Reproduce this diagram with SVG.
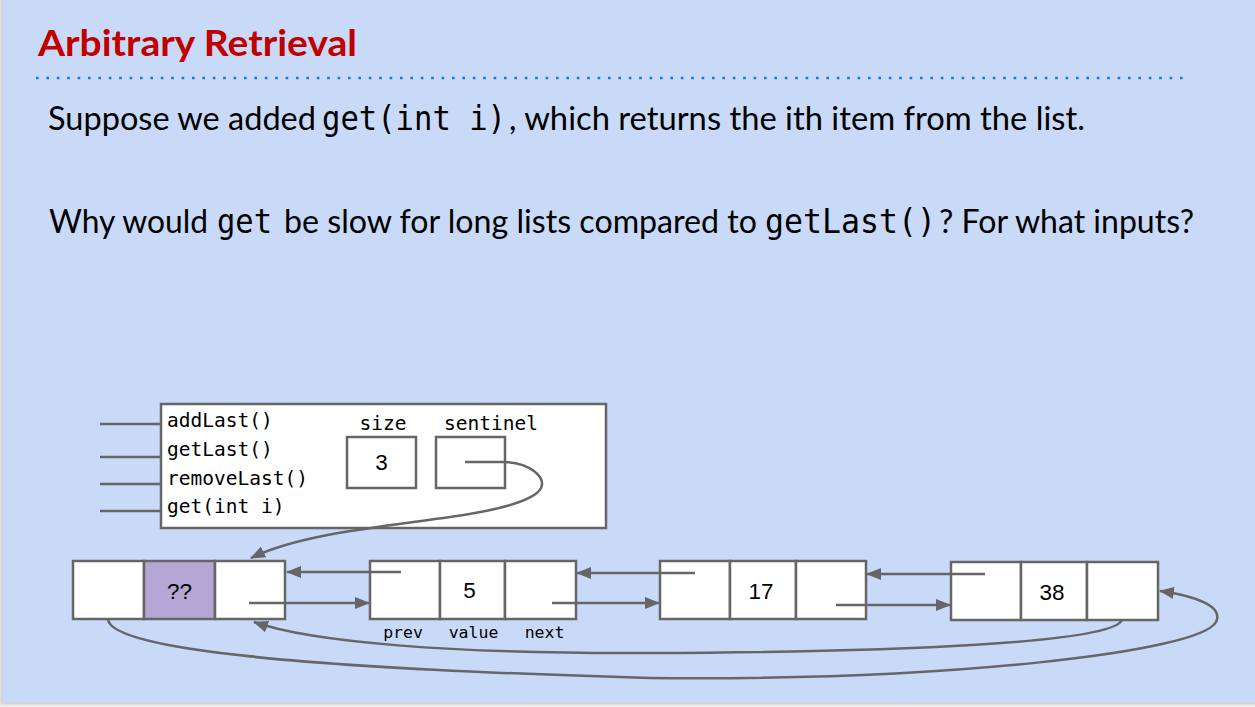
<svg xmlns="http://www.w3.org/2000/svg" width="1255" height="707" viewBox="0 0 1255 707">
<style>
.sans{font-family:Lato,"Open Sans","Liberation Sans",sans-serif;fill:#000}
.mono{font-family:"DejaVu Sans Mono","Liberation Mono",monospace;fill:#000}
.arial{font-family:"Liberation Sans",Arial,sans-serif;font-size:22.5px;fill:#000;text-anchor:middle}
.box{fill:#fff;stroke:#666;stroke-width:2.5}
.conn{fill:none;stroke:#666;stroke-width:2.5}
</style>
<defs>
<marker id="ah" markerUnits="userSpaceOnUse" markerWidth="16" markerHeight="12" refX="14" refY="6" orient="auto">
<path d="M0,0 L15,6 L0,12 Z" fill="#666"/>
</marker>
</defs>
<rect x="0" y="0" width="1255" height="707" fill="#ececec"/>
<rect x="2" y="0" width="1253" height="703" fill="#c9daf8"/>
<line x1="1.5" y1="0" x2="1.5" y2="703.5" stroke="#d4d4d4" stroke-width="2"/>
<line x1="1.5" y1="703.5" x2="1255" y2="703.5" stroke="#d4d4d4" stroke-width="2"/>

<g id="title">
<text class="sans" x="38" y="56" font-size="37" font-weight="bold" style="fill:#c00000" textLength="319" lengthAdjust="spacingAndGlyphs">Arbitrary Retrieval</text>
<line x1="36" y1="78" x2="1190" y2="78" stroke="#1c75cf" stroke-width="2.6" stroke-dasharray="2.6 7.8"/>
</g>

<g id="line1">
<text class="sans" x="48" y="130" font-size="33" textLength="268" lengthAdjust="spacingAndGlyphs">Suppose we added</text>
<text class="mono" x="322" y="130" font-size="33" textLength="184" lengthAdjust="spacingAndGlyphs">get(int i)</text>
<text class="sans" x="509" y="130" font-size="33" textLength="576" lengthAdjust="spacingAndGlyphs">, which returns the ith item from the list.</text>
</g>

<g id="line2">
<text class="sans" x="49" y="233" font-size="33" textLength="159" lengthAdjust="spacingAndGlyphs">Why would</text>
<text class="mono" x="217" y="233" font-size="33" textLength="55" lengthAdjust="spacingAndGlyphs">get</text>
<text class="sans" x="284" y="233" font-size="33" textLength="473" lengthAdjust="spacingAndGlyphs">be slow for long lists compared to</text>
<text class="mono" x="765" y="233" font-size="33" textLength="171" lengthAdjust="spacingAndGlyphs">getLast()</text>
<text class="sans" x="939" y="233" font-size="33" textLength="255" lengthAdjust="spacingAndGlyphs">? For what inputs?</text>
</g>

<g id="slist">
<line x1="100" y1="424" x2="161" y2="424" class="conn"/>
<line x1="100" y1="457" x2="161" y2="457" class="conn"/>
<line x1="100" y1="484" x2="161" y2="484" class="conn"/>
<line x1="100" y1="511" x2="161" y2="511" class="conn"/>
<rect class="box" x="161" y="404" width="445" height="124"/>
<text class="mono" x="167" y="427" font-size="19.5">addLast()</text>
<text class="mono" x="167" y="456" font-size="19.5">getLast()</text>
<text class="mono" x="167" y="485" font-size="19.5">removeLast()</text>
<text class="mono" x="167" y="513" font-size="19.5">get(int i)</text>
<text class="mono" x="383" y="430" font-size="19.5" text-anchor="middle">size</text>
<text class="mono" x="491" y="430" font-size="19.5" text-anchor="middle">sentinel</text>
<rect class="box" x="347" y="437" width="69" height="51"/>
<text class="arial" x="381.5" y="470">3</text>
<rect class="box" x="436" y="437" width="69" height="51"/>
</g>

<g id="node0">
<rect class="box" x="73" y="561" width="71" height="58"/>
<rect class="box" x="144" y="561" width="71" height="58" style="fill:#b4a7d6"/>
<rect class="box" x="215" y="561" width="70" height="58"/>
<text class="arial" x="179.5" y="599">??</text>
</g>

<g id="node1">
<rect class="box" x="370" y="561" width="70" height="58"/>
<rect class="box" x="440" y="561" width="65" height="58"/>
<rect class="box" x="505" y="561" width="71" height="58"/>
<text class="arial" x="469.5" y="598">5</text>
<text class="mono" x="403" y="638" font-size="16.5" text-anchor="middle">prev</text>
<text class="mono" x="473.5" y="638" font-size="16.5" text-anchor="middle">value</text>
<text class="mono" x="544.5" y="638" font-size="16.5" text-anchor="middle">next</text>
</g>

<g id="node2">
<rect class="box" x="660" y="561" width="70" height="58"/>
<rect class="box" x="730" y="561" width="66" height="58"/>
<rect class="box" x="796" y="561" width="70" height="58"/>
<text class="arial" x="761" y="599">17</text>
</g>

<g id="node3">
<rect class="box" x="951" y="562" width="70" height="58"/>
<rect class="box" x="1021" y="562" width="66" height="58"/>
<rect class="box" x="1087" y="562" width="71" height="58"/>
<text class="arial" x="1052" y="600">38</text>
</g>

<g id="connectors">
<path class="conn" marker-end="url(#ah)" d="M465,462 L505,462 C530,463 546,477 541,488 C535,500 500,510 450,517 C380,527 300,534 251,558"/>
<path class="conn" marker-end="url(#ah)" d="M401,572 L287,572"/>
<path class="conn" marker-end="url(#ah)" d="M249,603 L369,603"/>
<path class="conn" marker-end="url(#ah)" d="M695,573 L577,573"/>
<path class="conn" marker-end="url(#ah)" d="M552,603 L659,603"/>
<path class="conn" marker-end="url(#ah)" d="M985,574 L867,574"/>
<path class="conn" marker-end="url(#ah)" d="M836,605 L950,605"/>
<path class="conn" marker-end="url(#ah)" d="M1122,620 C1112,643 900,652 650,653 C450,654 310,642 254,622"/>
<path class="conn" marker-end="url(#ah)" d="M108,620 C115,650 300,668 650,678 C950,681 1200,652 1216,622 C1224,606 1195,596 1160,591"/>
</g>
</svg>
